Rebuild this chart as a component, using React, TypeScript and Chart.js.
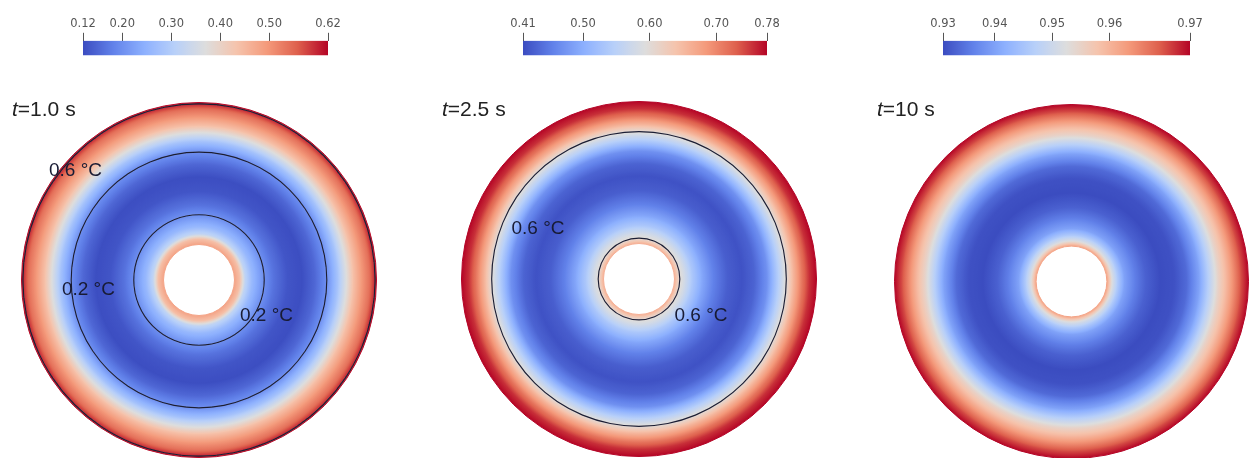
import { useEffect, useRef } from "react";
import { Chart, registerables } from "chart.js";

Chart.register(...registerables);

// Radial stations as a fraction of the outer radius (inner wall at 0.2)
const radialStations = [0.2, 0.23, 0.26, 0.3, 0.36, 0.42, 0.5, 0.58, 0.65, 0.72, 0.78, 0.83, 0.87, 0.92, 0.96, 1.0];

// Temperature rise (°C) at each radial station for the three instants
const tempAt1s = [0.48, 0.44, 0.32, 0.26, 0.205, 0.165, 0.13, 0.122, 0.15, 0.2, 0.28, 0.37, 0.44, 0.5, 0.54, 0.615];
const tempAt2p5s = [0.66, 0.6, 0.575, 0.535, 0.49, 0.455, 0.425, 0.415, 0.43, 0.47, 0.54, 0.6, 0.655, 0.715, 0.755, 0.776];
const tempAt10s = [0.962, 0.952, 0.946, 0.94, 0.936, 0.933, 0.931, 0.9315, 0.934, 0.94, 0.948, 0.955, 0.959, 0.965, 0.97, 0.974];

// Time stamps
const times = ["1.0", "2.5", "10"];

// Colour-bar ranges and tick values
const range1 = [0.12, 0.62];
const range2 = [0.41, 0.776];
const range3 = [0.931, 0.974];
const ticks1 = [0.12, 0.2, 0.3, 0.4, 0.5, 0.62];
const ticks2 = [0.41, 0.5, 0.6, 0.7, 0.776];
const ticks3 = [0.931, 0.94, 0.95, 0.96, 0.974];

// Isotherm levels (°C) and the levels written on each label
const levels1 = [0.2, 0.6];
const levels2 = [0.6];
const levels3: number[] = [];
const labels1 = [0.6, 0.2, 0.2];
const labels2 = [0.6, 0.6];
const labels3: number[] = [];

// ---- styling / layout ----
const COOL_WARM = [
  [59, 76, 192],
  [98, 130, 234],
  [141, 176, 254],
  [184, 208, 249],
  [221, 221, 221],
  [245, 196, 173],
  [244, 154, 123],
  [222, 96, 77],
  [180, 4, 38],
];

function coolWarm(u: number): string {
  const t = Math.min(1, Math.max(0, u)) * (COOL_WARM.length - 1);
  const i = Math.min(COOL_WARM.length - 2, Math.floor(t));
  const f = t - i;
  const a = COOL_WARM[i];
  const b = COOL_WARM[i + 1];
  const c = a.map((v, k) => Math.round(v + (b[k] - v) * f));
  return `rgb(${c[0]},${c[1]},${c[2]})`;
}

const CONTOUR_W = 0.0065;
const CONTOUR_COLOR = "#1b1d33";
const SANS = '"Liberation Sans", Arial, sans-serif';

type PanelSpec = {
  temps: number[];
  range: number[];
  ticks: number[];
  levels: number[];
  labels: number[];
  time: string;
  // layout
  disc: { left: number; top: number; size: number };
  bar: { left: number; width: number };
  titleLeft: number;
  anchors: number[][];
};

const panels: PanelSpec[] = [
  {
    temps: tempAt1s, range: range1, ticks: ticks1, levels: levels1, labels: labels1, time: times[0],
    disc: { left: 21, top: 102, size: 356 },
    bar: { left: 83, width: 245 },
    titleLeft: 12,
    anchors: [[-0.696, -0.617], [-0.623, 0.056], [0.38, 0.203]],
  },
  {
    temps: tempAt2p5s, range: range2, ticks: ticks2, levels: levels2, labels: labels2, time: times[1],
    disc: { left: 461, top: 101, size: 356 },
    bar: { left: 523, width: 244 },
    titleLeft: 442,
    anchors: [[-0.569, -0.282], [0.349, 0.208]],
  },
  {
    temps: tempAt10s, range: range3, ticks: ticks3, levels: levels3, labels: labels3, time: times[2],
    disc: { left: 894, top: 104, size: 355 },
    bar: { left: 943, width: 247 },
    titleLeft: 877,
    anchors: [],
  },
];

// radius where the radial profile crosses a given level
function isothermRadii(radii: number[], temps: number[], level: number): number[] {
  const out: number[] = [];
  for (let i = 0; i < radii.length - 1; i++) {
    const a = temps[i];
    const b = temps[i + 1];
    if ((a <= level && b > level) || (a >= level && b < level)) {
      out.push(radii[i] + ((level - a) / (b - a)) * (radii[i + 1] - radii[i]));
    }
  }
  return out;
}

function radialPaint(radii: number[], temps: number[], range: number[]) {
  const rIn = radii[0];
  const rOut = radii[radii.length - 1];
  return (ctx: any) => {
    const chart = ctx.chart;
    const area = chart.chartArea;
    if (!area) return "#ffffff";
    const cx = (area.left + area.right) / 2;
    const cy = (area.top + area.bottom) / 2;
    const outer = (Math.min(area.right - area.left, area.bottom - area.top) - 1) / 2;
    const inner = (outer * rIn) / rOut;
    const g = chart.ctx.createRadialGradient(cx, cy, inner, cx, cy, outer);
    const steps = 8;
    for (let i = 0; i < radii.length - 1; i++) {
      for (let k = 0; k < steps; k++) {
        const f = k / steps;
        const r = radii[i] + f * (radii[i + 1] - radii[i]);
        const t = temps[i] + f * (temps[i + 1] - temps[i]);
        g.addColorStop((r - rIn) / (rOut - rIn), coolWarm((t - range[0]) / (range[1] - range[0])));
      }
    }
    g.addColorStop(1, coolWarm((temps[temps.length - 1] - range[0]) / (range[1] - range[0])));
    return g;
  };
}

function buildRings(radii: number[], temps: number[], levels: number[], range: number[]) {
  const rIn = radii[0];
  const rOut = radii[radii.length - 1];
  const cuts = levels.flatMap((l) => isothermRadii(radii, temps, l)).sort((a, b) => a - b);
  const bounds = [rIn, ...cuts, rOut];
  const paint = radialPaint(radii, temps, range);
  const half = CONTOUR_W / 2;
  const datasets: any[] = [];
  // outermost ring first
  for (let j = bounds.length - 2; j >= 0; j--) {
    const lo = bounds[j] + (j > 0 ? half : 0);
    const hi = bounds[j + 1] - (j + 1 < bounds.length - 1 ? half : 0);
    datasets.push({
      data: [1],
      weight: hi - lo,
      backgroundColor: paint,
      borderColor: paint,
      borderWidth: 1,
      hoverBorderWidth: 0,
      offset: 0,
      hoverOffset: 0,
      order: 1,
    });
    if (j > 0) {
      datasets.push({
        data: [1],
        weight: CONTOUR_W,
        backgroundColor: CONTOUR_COLOR,
        borderWidth: 0,
        hoverBorderWidth: 0,
        offset: 0,
        hoverOffset: 0,
        order: 0,
      });
    }
  }
  return { datasets, cutout: `${(rIn / rOut) * 100}%` };
}

function Disc({ spec }: { spec: PanelSpec }) {
  const ref = useRef<HTMLCanvasElement | null>(null);
  useEffect(() => {
    if (!ref.current) return;
    const { datasets, cutout } = buildRings(radialStations, spec.temps, spec.levels, spec.range);
    const labelPlugin = {
      id: "isothermLabels",
      afterDatasetsDraw(chart: any) {
        const a = chart.chartArea;
        const cx = (a.left + a.right) / 2;
        const cy = (a.top + a.bottom) / 2;
        const R = (Math.min(a.right - a.left, a.bottom - a.top) - 1) / 2;
        const c = chart.ctx;
        c.save();
        c.font = `19px ${SANS}`;
        c.fillStyle = "#181b34";
        c.textAlign = "center";
        c.textBaseline = "middle";
        spec.labels.forEach((v, i) => {
          const p = spec.anchors[i];
          c.fillText(`${v} °C`, cx + p[0] * R, cy + p[1] * R);
        });
        c.restore();
      },
    };
    const chart = new Chart(ref.current, {
      type: "doughnut",
      data: { labels: [""], datasets },
      options: {
        responsive: false,
        animation: false,
        events: [],
        cutout,
        layout: { padding: 0 },
        plugins: { legend: { display: false }, tooltip: { enabled: false } },
      } as any,
      plugins: [labelPlugin],
    });
    return () => chart.destroy();
  }, [spec]);
  const d = spec.disc;
  return (
    <canvas
      ref={ref}
      width={d.size}
      height={d.size}
      style={{ position: "absolute", left: d.left, top: d.top, width: d.size, height: d.size }}
    />
  );
}

const BAR_PAD = 20;
const BAR_CANVAS_H = 70;

function ColorBar({ spec }: { spec: PanelSpec }) {
  const ref = useRef<HTMLCanvasElement | null>(null);
  useEffect(() => {
    if (!ref.current) return;
    const [min, max] = spec.range;
    const chart = new Chart(ref.current, {
      type: "bar",
      data: {
        // the bar sits in the upper slot; the lower slot is left empty
        labels: ["", " "],
        datasets: [
          {
            data: [[min, max], null] as any,
            backgroundColor: (ctx: any) => {
              const ch = ctx.chart;
              const area = ch.chartArea;
              if (!area) return "#888";
              const x0 = ch.scales.x.getPixelForValue(min);
              const x1 = ch.scales.x.getPixelForValue(max);
              const g = ch.ctx.createLinearGradient(x0, 0, x1, 0);
              for (let i = 0; i <= 32; i++) g.addColorStop(i / 32, coolWarm(i / 32));
              return g;
            },
            borderWidth: 0,
            barPercentage: 1,
            categoryPercentage: 1,
          },
        ],
      },
      options: {
        indexAxis: "y",
        responsive: false,
        animation: false,
        events: [],
        layout: { padding: { left: BAR_PAD, right: BAR_PAD, top: 15, bottom: 1 } },
        plugins: { legend: { display: false }, tooltip: { enabled: false } },
        scales: {
          x: {
            type: "linear",
            position: "top",
            min,
            max,
            afterBuildTicks: (axis: any) => {
              axis.ticks = spec.ticks.map((v) => ({ value: v }));
            },
            ticks: {
              callback: (v: any) => Number(v).toFixed(2),
              font: { family: '"DejaVu Sans", sans-serif', size: 11.5 },
              color: "#555",
              padding: 2,
              maxRotation: 0,
              autoSkip: false,
            },
            grid: { drawOnChartArea: false, tickLength: 8, color: "#555", lineWidth: 1 },
            border: { display: false },
          },
          y: { display: false },
        },
      } as any,
    });
    return () => chart.destroy();
  }, [spec]);
  const w = spec.bar.width + BAR_PAD * 2;
  return (
    <canvas
      ref={ref}
      width={w}
      height={BAR_CANVAS_H}
      style={{ position: "absolute", left: spec.bar.left - BAR_PAD, top: 0, width: w, height: BAR_CANVAS_H }}
    />
  );
}

function Title({ spec }: { spec: PanelSpec }) {
  return (
    <div
      style={{
        position: "absolute",
        left: spec.titleLeft,
        top: 98,
        font: `21px ${SANS}`,
        lineHeight: "21px",
        color: "#222",
        whiteSpace: "nowrap",
      }}
    >
      <i>t</i>={spec.time} s
    </div>
  );
}

export default function App() {
  return (
    <div
      style={{
        position: "absolute",
        left: 0,
        top: 0,
        width: 1252,
        height: 458,
        overflow: "hidden",
        background: "#ffffff",
      }}
    >
      {panels.map((p, i) => (
        <div key={i}>
          <ColorBar spec={p} />
          <Disc spec={p} />
          <Title spec={p} />
        </div>
      ))}
    </div>
  );
}
